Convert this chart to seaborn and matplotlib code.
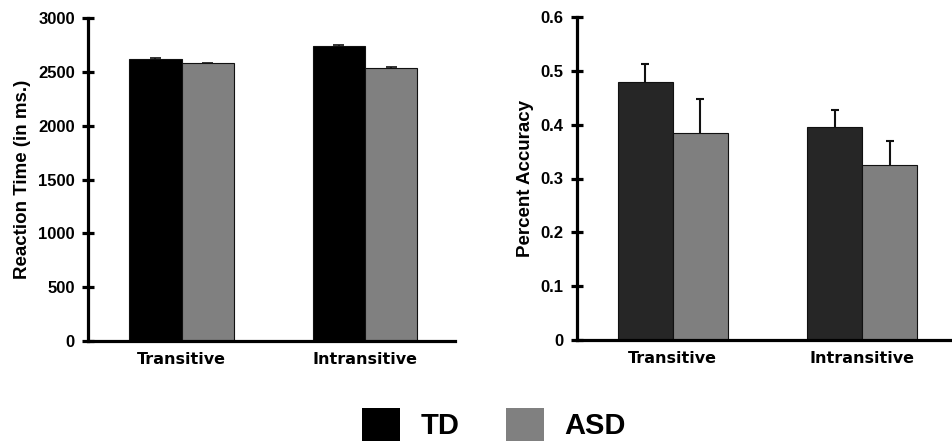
import matplotlib
matplotlib.use("Agg")
import matplotlib.pyplot as plt
import seaborn as sns
import pandas as pd
from matplotlib.patches import Patch

sns.set_style("white")
plt.rcParams['font.family'] = ['Liberation Sans', 'DejaVu Sans']
plt.rcParams['text.color'] = 'black'
plt.rcParams['axes.labelcolor'] = 'black'

categories = ["Transitive", "Intransitive"]
groups = ["TD", "ASD"]

rt_td = [2620, 2740]
rt_asd = [2580, 2540]
rt_td_err = [10, 8]
rt_asd_err = [4, 4]

acc_td = [0.480, 0.395]
acc_asd = [0.385, 0.325]
acc_td_err = [0.033, 0.033]
acc_asd_err = [0.063, 0.044]

left_colors = {"TD": "#000000", "ASD": "#808080"}
right_colors = {"TD": "#262626", "ASD": "#7f7f7f"}


def make_df(td, asd):
    rows = []
    for c, v in zip(categories, td):
        rows.append({"cat": c, "group": "TD", "val": v})
    for c, v in zip(categories, asd):
        rows.append({"cat": c, "group": "ASD", "val": v})
    return pd.DataFrame(rows)


fig = plt.figure(figsize=(9.52, 4.47), dpi=100)
ax1 = fig.add_axes([88 / 952, 1 - 341 / 447, 367 / 952, 323 / 447])
ax2 = fig.add_axes([577 / 952, 1 - 340 / 447, 380 / 952, 323 / 447])


def draw(ax, td, asd, td_err, asd_err, colors, width, ylim, yticks, ylabel, ticklabels, elw, cap):
    df = make_df(td, asd)
    sns.barplot(data=df, x="cat", y="val", hue="group", order=categories,
                hue_order=groups, palette=colors, width=width, gap=0,
                errorbar=None, edgecolor="#111111", linewidth=0.8,
                legend=False, ax=ax)
    errs = list(td_err) + list(asd_err)
    for p, e in zip(list(ax.patches), errs):
        xc = p.get_x() + p.get_width() / 2
        h = p.get_height()
        ax.plot([xc, xc], [h, h + e], color="#111111", lw=elw, zorder=1,
                solid_capstyle="butt")
        ax.plot([xc - cap, xc + cap], [h + e, h + e], color="#111111",
                lw=elw, zorder=1, solid_capstyle="butt")
    ax.set_ylim(*ylim)
    ax.set_yticks(yticks)
    ax.set_yticklabels(ticklabels)
    ax.set_xlim(-0.51, 1.49)
    ax.set_xlabel("")
    ax.set_ylabel(ylabel, fontsize=13.5, fontweight="bold", labelpad=5,
                  color="black")
    for s in ["top", "right"]:
        ax.spines[s].set_visible(False)
    for s in ["left", "bottom"]:
        ax.spines[s].set_linewidth(2.3)
        ax.spines[s].set_color("black")
    ax.tick_params(axis="y", direction="inout", length=9, width=2.3,
                   labelsize=12, pad=5, colors="black", left=True)
    ax.tick_params(axis="x", length=0, pad=8, labelsize=11.5,
                   labelcolor="black")
    for lbl in ax.get_yticklabels():
        lbl.set_fontweight("bold")
    for lbl in ax.get_xticklabels():
        lbl.set_fontweight("bold")
        lbl.set_family(["DejaVu Sans"])


draw(ax1, rt_td, rt_asd, rt_td_err, rt_asd_err, left_colors, 0.57,
     (0, 3000), [0, 500, 1000, 1500, 2000, 2500, 3000],
     "Reaction Time (in ms.)",
     ["0", "500", "1000", "1500", "2000", "2500", "3000"], 1.2, 0.03)
draw(ax2, acc_td, acc_asd, acc_td_err, acc_asd_err, right_colors, 0.58,
     (0, 0.6), [0, 0.1, 0.2, 0.3, 0.4, 0.5, 0.6],
     "Percent Accuracy",
     ["0", "0.1", "0.2", "0.3", "0.4", "0.5", "0.6"], 1.5, 0.022)
ax2.set_xlim(-0.505, 1.5)

handles = [Patch(facecolor="#000000", edgecolor="none", label="TD"),
           Patch(facecolor="#808080", edgecolor="none", label="ASD")]
fig.legend(handles=handles, loc="center", bbox_to_anchor=(0.519, 0.051),
           ncol=2, frameon=False, prop={"size": 21, "weight": "bold"},
           handlelength=1.3, handleheight=1.37, handletextpad=0.7,
           columnspacing=1.6)

fig.savefig("out.png", dpi=100)
